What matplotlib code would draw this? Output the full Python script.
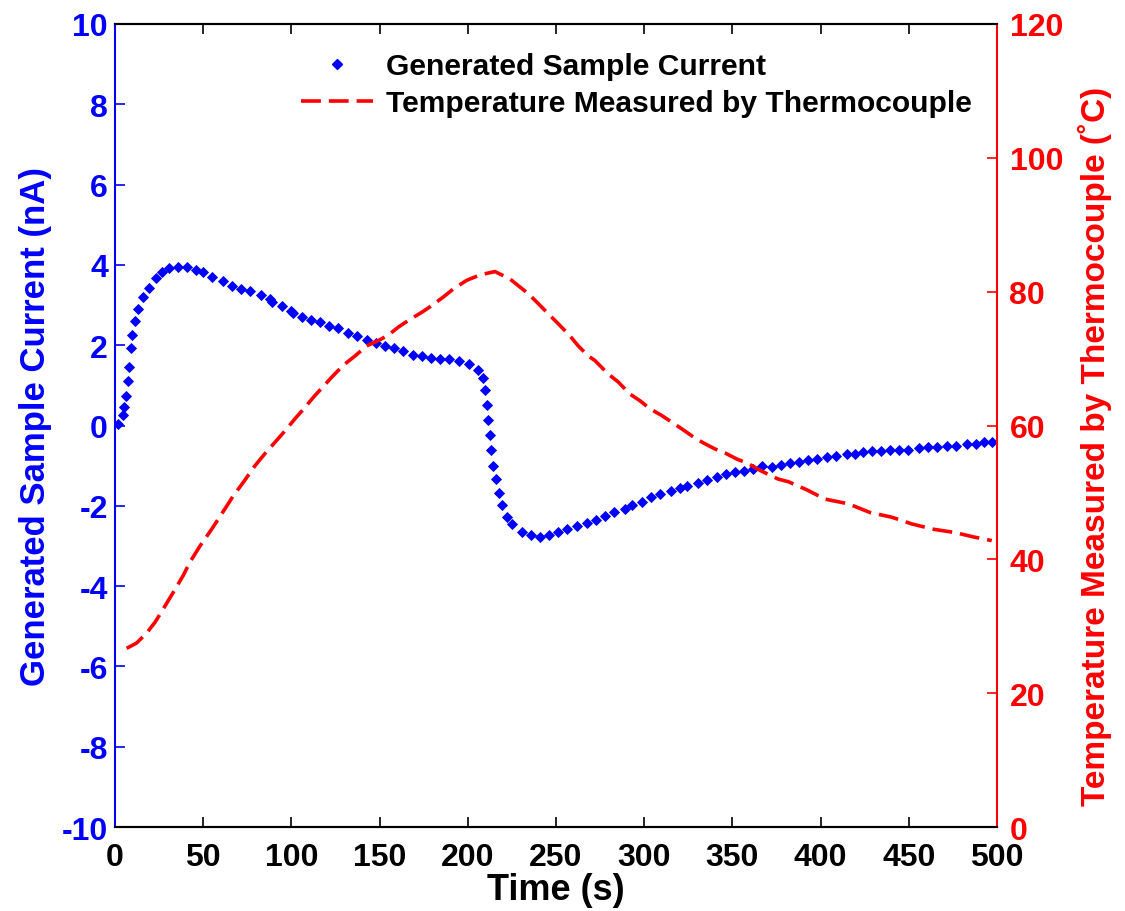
import matplotlib
matplotlib.use("Agg")
import matplotlib.pyplot as plt
from matplotlib.lines import Line2D

plt.rcParams['font.family'] = ['Liberation Sans', 'DejaVu Sans']
plt.rcParams['font.weight'] = 'bold'
plt.rcParams['axes.unicode_minus'] = False

# Generated sample current (nA)
t_cur = [1.9, 4.7, 5.2, 6.0, 7.5, 8.1, 9.1, 9.8, 11.3, 13.2,
         15.7, 19.4, 23.1, 26.5, 30.6, 35.9, 41.0, 46.1, 49.7, 54.8,
         61.0, 66.1, 71.5, 76.5, 82.6, 87.9, 89.2, 94.5, 99.6, 101.1,
         105.8, 110.9, 116.2, 121.3, 126.4, 132.3, 137.4, 142.7, 148.0, 153.1,
         158.2, 163.4, 168.8, 173.9, 179.0, 184.2, 189.5, 195.2, 200.5, 205.6,
         208.8, 209.8, 210.9, 211.2, 212.4, 213.2, 214.1, 216.0, 217.7, 219.2,
         222.0, 225.2, 230.5, 235.7, 240.8, 246.0, 251.1, 256.4, 261.7, 267.4,
         272.5, 277.8, 283.1, 289.1, 293.3, 298.6, 303.7, 309.0, 315.0, 320.3,
         324.4, 330.7, 335.8, 341.1, 346.2, 351.5, 356.6, 361.9, 367.0, 372.3,
         377.4, 382.7, 387.8, 393.0, 398.1, 403.4, 408.7, 414.8, 419.5, 423.8,
         429.3, 434.2, 439.3, 444.4, 449.7, 455.9, 461.1, 466.2, 471.5, 476.6,
         482.8, 487.9, 492.6, 497.0]
v_cur = [0.04, 0.27, 0.46, 0.74, 1.12, 1.46, 1.93, 2.25, 2.60, 2.90,
         3.20, 3.42, 3.67, 3.82, 3.92, 3.96, 3.96, 3.88, 3.82, 3.69,
         3.59, 3.47, 3.40, 3.34, 3.25, 3.15, 3.08, 2.98, 2.86, 2.79,
         2.71, 2.64, 2.57, 2.49, 2.42, 2.30, 2.22, 2.14, 2.06, 1.99,
         1.92, 1.85, 1.76, 1.72, 1.68, 1.66, 1.66, 1.61, 1.53, 1.39,
         1.18, 0.89, 0.52, 0.14, -0.24, -0.62, -1.00, -1.33, -1.68, -1.98,
         -2.27, -2.46, -2.66, -2.73, -2.78, -2.73, -2.66, -2.58, -2.50, -2.44,
         -2.36, -2.25, -2.16, -2.08, -1.98, -1.90, -1.79, -1.71, -1.62, -1.56,
         -1.51, -1.44, -1.36, -1.29, -1.22, -1.17, -1.14, -1.08, -1.02, -1.03,
         -0.98, -0.93, -0.90, -0.86, -0.83, -0.79, -0.75, -0.71, -0.71, -0.67,
         -0.64, -0.64, -0.61, -0.61, -0.61, -0.57, -0.54, -0.54, -0.50, -0.50,
         -0.46, -0.46, -0.42, -0.42]

# Temperature measured by thermocouple (deg C)
t_temp = [6.6, 12.3, 18.0, 22.7, 27.4, 33.1, 38.7, 42.5, 48.2, 54.8,
          60.5, 67.1, 72.7, 79.4, 85.0, 90.7, 96.4, 102.0, 107.7, 112.4,
          122.8, 129.4, 136.1, 142.7, 149.3, 154.9, 160.6, 166.3, 173.8, 179.5,
          186.1, 191.8, 199.4, 206.9, 213.5, 215.4, 223.9, 228.6, 234.3, 240.0,
          245.6, 251.3, 257.9, 262.6, 268.3, 272.1, 279.6, 285.3, 291.9, 297.6,
          303.3, 309.9, 315.6, 321.3, 327.8, 333.5, 340.1, 345.8, 352.4, 359.0,
          365.6, 375.9, 381.7, 392.1, 402.5, 415.7, 428.0, 440.3, 451.6, 463.9,
          476.2, 487.5, 497.0]
temp = [26.7, 27.5, 29.0, 30.6, 32.6, 35.1, 37.6, 39.6, 42.0, 44.5,
        46.8, 49.5, 51.5, 54.0, 55.8, 57.5, 59.2, 61.0, 62.7, 64.2,
        67.2, 69.0, 70.4, 71.9, 72.7, 73.5, 74.7, 75.7, 76.9, 77.9,
        79.2, 80.4, 81.7, 82.5, 82.9, 83.0, 81.9, 80.9, 79.7, 78.2,
        76.7, 75.2, 73.4, 71.9, 70.4, 69.7, 67.7, 66.5, 64.7, 63.7,
        62.5, 61.5, 60.5, 59.5, 58.3, 57.4, 56.5, 55.9, 55.0, 54.3,
        53.3, 52.0, 51.6, 50.4, 49.0, 48.3, 47.0, 46.3, 45.3, 44.5,
        44.0, 43.3, 42.8]

x_ticks = [0, 50, 100, 150, 200, 250, 300, 350, 400, 450, 500]
y_left_ticks = [-10, -8, -6, -4, -2, 0, 2, 4, 6, 8, 10]
y_right_ticks = [0, 20, 40, 60, 80, 100, 120]

label_cur = 'Generated Sample Current'
label_temp = 'Temperature Measured by Thermocouple'

BLUE = (0, 0, 1)
RED = (1, 0, 0)
DASH = (0, (5.5, 2.2))
LW = 2.6
MS = 5.2

fig = plt.figure(figsize=(11.25, 9.12), dpi=100)
ax = fig.add_axes([115/1125, 1 - 828/912, (997 - 115)/1125, (828 - 25)/912])

ax.plot(t_cur, v_cur, linestyle='none', marker='D', markersize=MS,
        color=BLUE, markeredgewidth=0.6)
ax.set_xlim(0, 500)
ax.set_ylim(-10, 10)
ax.set_xticks(x_ticks)
ax.set_yticks(y_left_ticks)
ax.tick_params(axis='y', direction='in', length=7, width=1.2, colors=BLUE,
               labelsize=23, right=True, left=True, pad=5)
ax.tick_params(axis='x', direction='in', length=7, width=1.2, colors='black',
               labelsize=23, top=True, bottom=True, pad=11)
for lab in ax.get_xticklabels() + ax.get_yticklabels():
    lab.set_fontweight('bold')
ax.spines['left'].set_color(BLUE)
ax.spines['right'].set_visible(False)
for s in ax.spines.values():
    s.set_linewidth(1.5)
ax.set_xlabel('Time (s)', fontsize=26, fontweight='bold', labelpad=0)
ax.set_ylabel('Generated Sample Current (nA)', fontsize=25, fontweight='bold',
              color=BLUE)
ax.yaxis.set_label_coords(-0.0714, 0.5)

ax2 = ax.twinx()
ax2.plot(t_temp, temp, color=RED, linewidth=LW, linestyle=DASH)
ax2.set_ylim(0, 120)
ax2.set_yticks(y_right_ticks)
ax2.tick_params(axis='y', direction='in', length=7, width=1.2, colors=RED,
                labelsize=23, pad=9)
for lab in ax2.get_yticklabels():
    lab.set_fontweight('bold')
ax2.spines['right'].set_color(RED)
ax2.spines['left'].set_visible(False)
for s in ax2.spines.values():
    s.set_linewidth(1.5)
ax2.set_ylabel('Temperature Measured by Thermocouple (\u02daC)', fontsize=24,
               fontweight='bold', color=RED)
ax2.yaxis.set_label_coords(1.092, 0.475)

handles = [Line2D([], [], linestyle='none', marker='D', markersize=MS,
                  color=BLUE),
           Line2D([], [], color=RED, linewidth=LW, linestyle=DASH)]
leg = ax2.legend(handles, [label_cur, label_temp], loc='upper left',
                 bbox_to_anchor=(286/1125, 1 - 38/912),
                 bbox_transform=fig.transFigure, frameon=False,
                 prop={'size': 21.6, 'weight': 'bold'}, handlelength=2.4,
                 handletextpad=0.45, labelspacing=0.3, borderpad=0,
                 numpoints=1)

fig.savefig('out.png', dpi=100)
